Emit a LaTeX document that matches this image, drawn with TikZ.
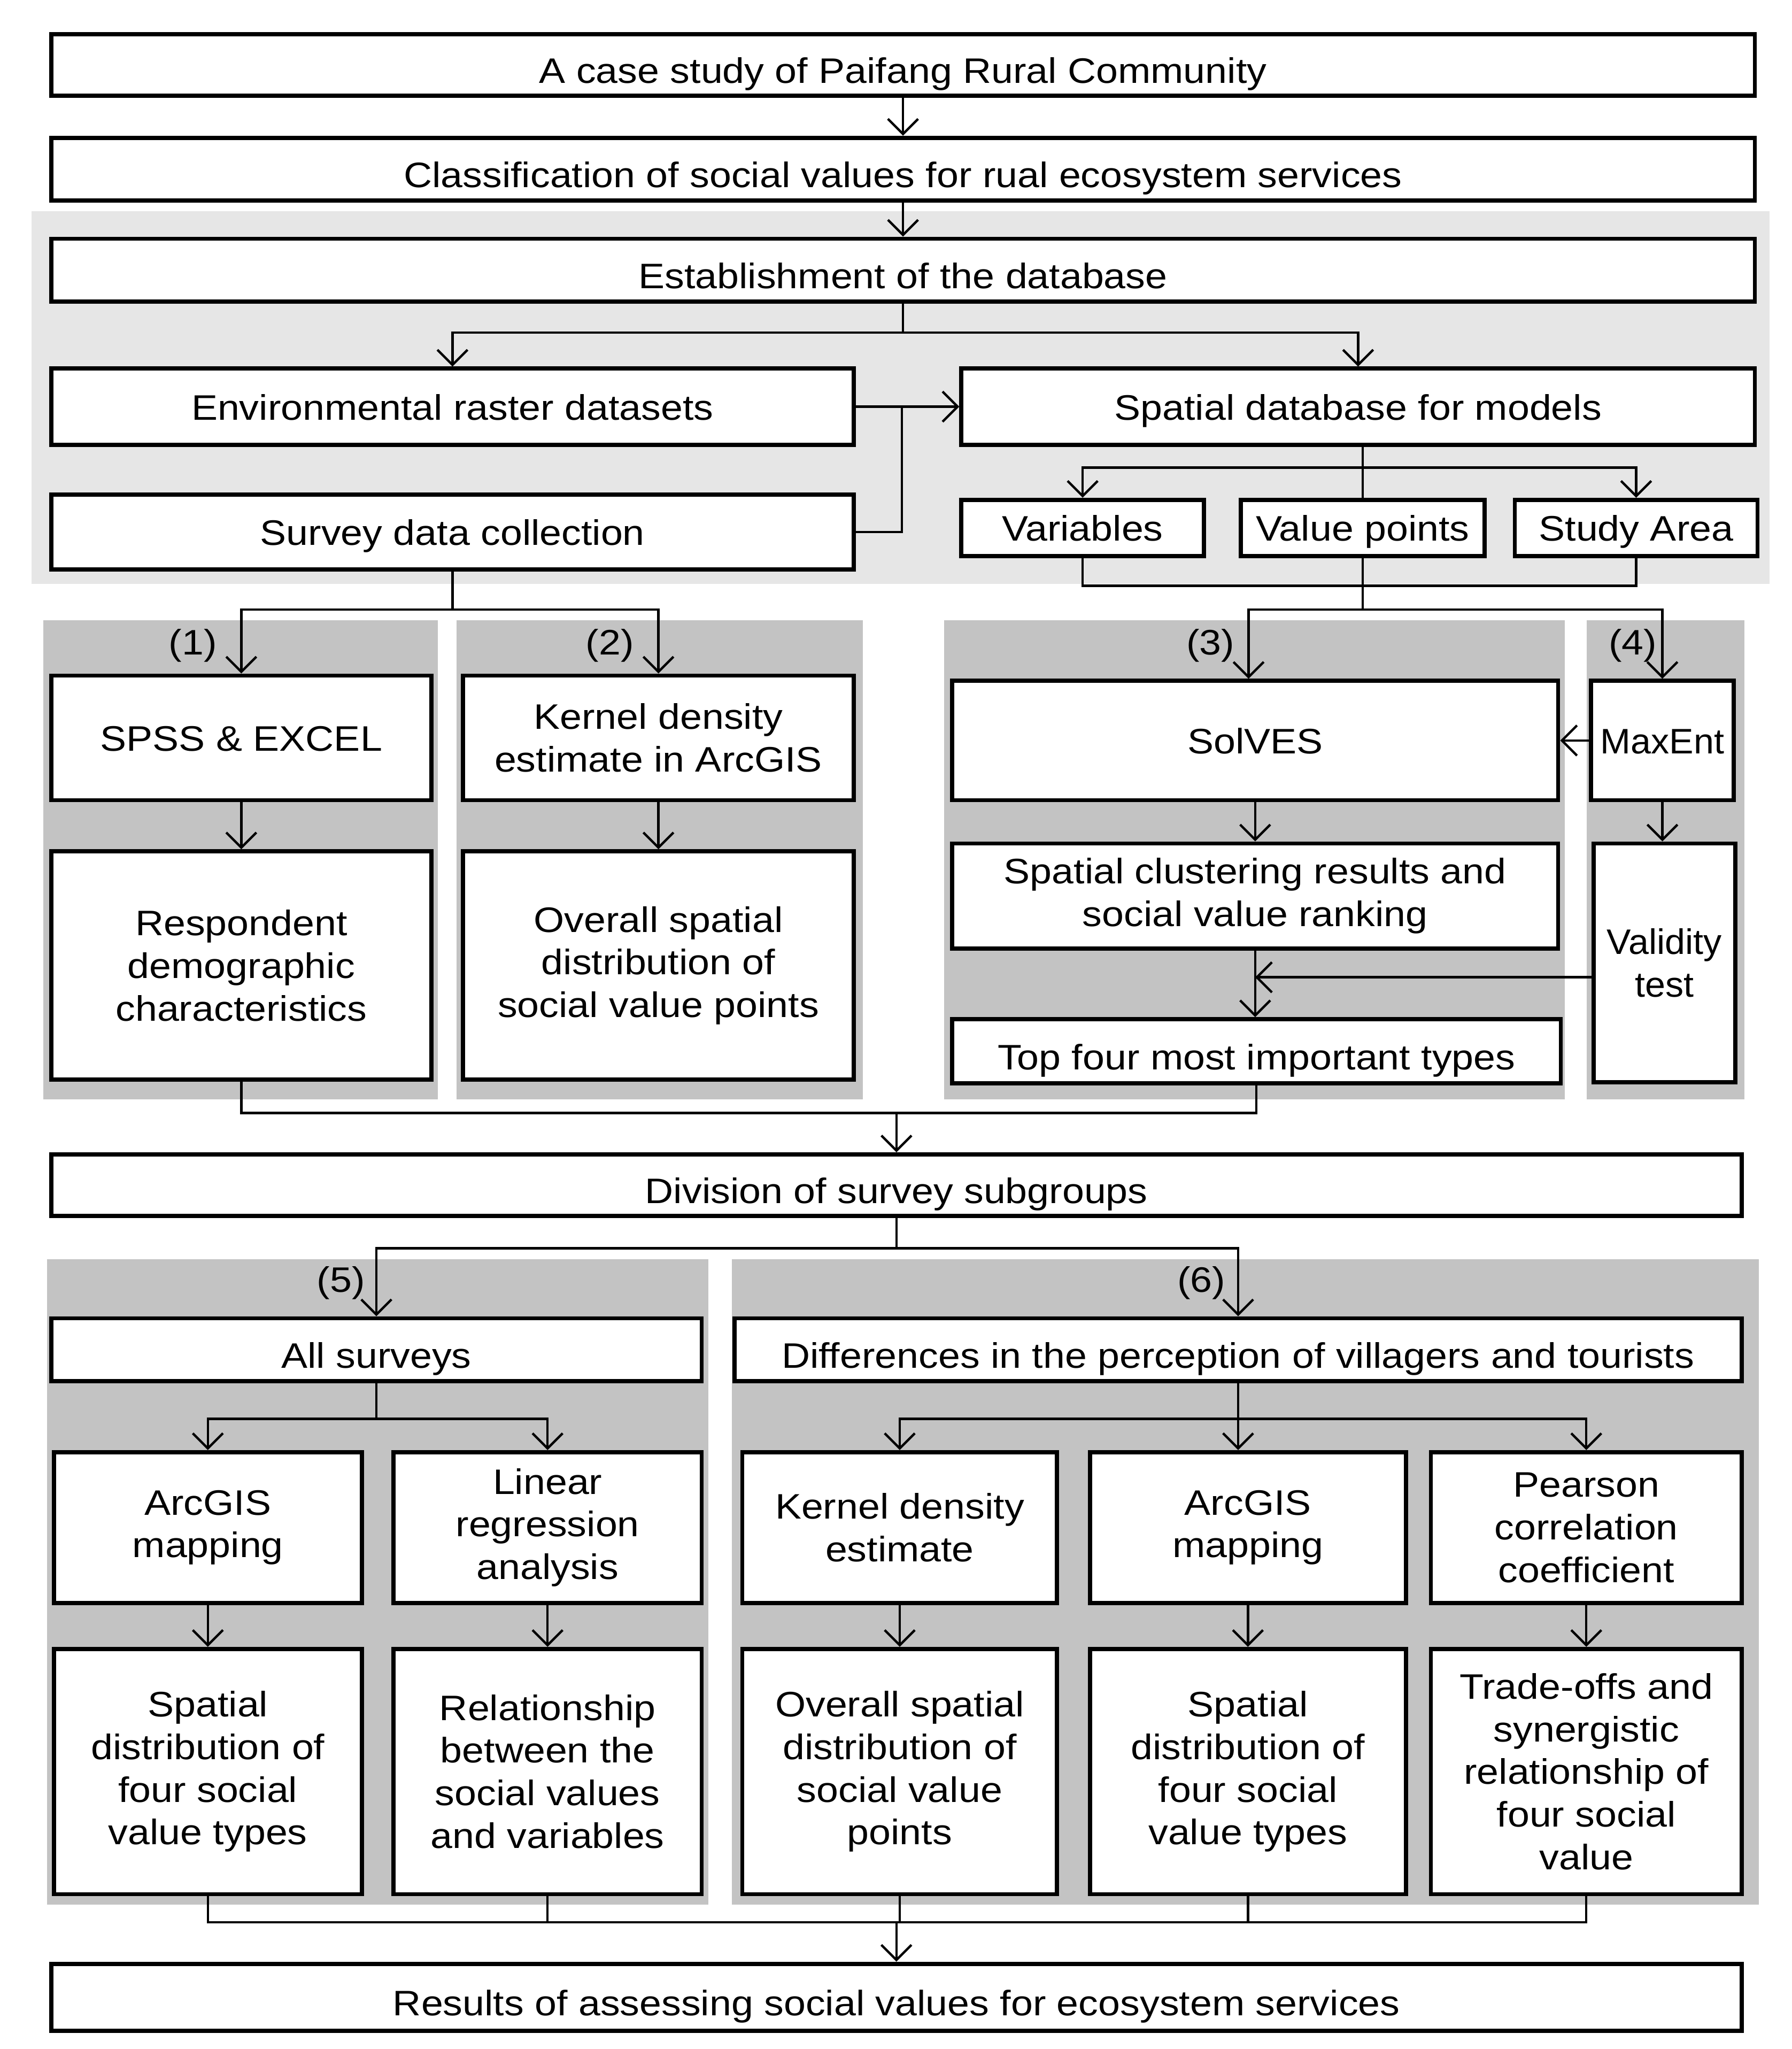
\documentclass[tikz,border=0pt]{standalone}
\usepackage{fontspec}
\setmainfont{Liberation Sans}[FakeStretch=1.11]
\newfontfamily\narrowfont{Liberation Sans}[FakeStretch=1.03]
\usetikzlibrary{arrows.meta,calc}
\definecolor{lightbg}{RGB}{230,230,230}
\definecolor{panelbg}{RGB}{195,195,195}
\newcommand\drawbox[7][]{%
  \pgfmathsetmacro\bw{#5-#3}\pgfmathsetmacro\bh{#6-#4}%
  \pgfmathsetmacro\bcx{(#3+#5)/2}\pgfmathsetmacro\bcy{(#4+#6)/2}%
  \node[box,#1,minimum width=\bw pt,minimum height=\bh pt] (#2) at (\bcx,\bcy) {#7};}
\begin{document}
\begin{tikzpicture}[x=1pt,y=-1pt,
  box/.style={draw=black,line width=3.2pt,fill=white,inner sep=0pt,align=center,font=\fontsize{27}{32.5}\selectfont},
  one/.style={text height=20pt,text depth=0pt},
  low/.style={text height=28pt,text depth=0pt},
  narrow/.style={font=\fontsize{27}{32.5}\narrowfont},
  lbl/.style={inner sep=0pt,font=\fontsize{27}{32.5}\selectfont},
  conn/.style={line width=1.8pt},
  arr/.style={line width=1.8pt,-{Straight Barb[length=11.5pt,width=23pt]}}]
\useasboundingbox (0,0) rectangle (1366,1562);
\fill[white] (0,0) rectangle (1366,1562);
% backgrounds
\fill[lightbg] (24,161) rectangle (1349,445);
\fill[panelbg] (33,473) rectangle (334,838);
\fill[panelbg] (348,473) rectangle (658,838);
\fill[panelbg] (720,473) rectangle (1193,838);
\fill[panelbg] (1210,473) rectangle (1330,838);
\fill[panelbg] (36,960) rectangle (540,1452);
\fill[panelbg] (558,960) rectangle (1341,1452);
% boxes
\drawbox[low]{b1}{39}{26}{1338}{73}{A case study of Paifang Rural Community}
\drawbox[low]{b2}{39}{105}{1338}{153}{Classification of social values for rual ecosystem services}
\drawbox[low]{b3}{39}{182}{1338}{230}{Establishment of the database}
\drawbox[one]{env}{39}{281}{651}{339}{Environmental raster datasets}
\drawbox[one]{sdb}{733}{281}{1338}{339}{Spatial database for models}
\drawbox[one]{sur}{39}{377}{651}{434}{Survey data collection}
\drawbox[one]{var}{733}{381}{918}{424}{Variables}
\drawbox[one]{vp}{946}{381}{1132}{424}{Value points}
\drawbox[one]{sa}{1155}{381}{1340}{424}{Study Area}
\drawbox[one]{spss}{39}{515}{329}{610}{SPSS \& EXCEL}
\drawbox{resp}{39}{649}{329}{823}{Respondent\\demographic\\characteristics}
\drawbox{kde}{353}{515}{651}{610}{Kernel density\\estimate in ArcGIS}
\drawbox{ovr}{353}{649}{651}{823}{Overall spatial\\distribution of\\social value points}
\drawbox[one]{solves}{726}{519}{1188}{610}{SolVES}
\drawbox{scr}{726}{643}{1188}{723}{Spatial clustering results and\\social value ranking}
\drawbox[low]{top}{726}{777}{1190}{826}{Top four most important types}
\drawbox[one,narrow]{maxent}{1213}{519}{1322}{610}{MaxEnt}
\drawbox[narrow]{valid}{1215}{643}{1323}{825}{Validity\\test}
\drawbox[low]{div}{39}{880}{1328}{927}{Division of survey subgroups}
\drawbox[low]{all}{39}{1005}{535}{1053}{All surveys}
\drawbox[low]{diff}{560}{1005}{1328}{1053}{Differences in the perception of villagers and tourists}
\drawbox{arc1}{41}{1107}{276}{1222}{ArcGIS\\mapping}
\drawbox{lin}{300}{1107}{535}{1222}{Linear\\regression\\analysis}
\drawbox{sd1}{41}{1257}{276}{1444}{Spatial\\distribution of\\four social\\value types}
\drawbox{rel}{300}{1257}{535}{1444}{Relationship\\between the\\social values\\and variables}
\drawbox{kde2}{566}{1107}{806}{1222}{Kernel density\\estimate}
\drawbox{arc2}{831}{1107}{1072}{1222}{ArcGIS\\mapping}
\drawbox{pear}{1091}{1107}{1328}{1222}{Pearson\\correlation\\coefficient}
\drawbox{ovr2}{566}{1257}{806}{1444}{Overall spatial\\distribution of\\social value\\points}
\drawbox{sd2}{831}{1257}{1072}{1444}{Spatial\\distribution of\\four social\\value types}
\drawbox{trade}{1091}{1257}{1328}{1444}{Trade-offs and\\synergistic\\relationship of\\four social\\value}
\drawbox[low]{res}{39}{1497}{1328}{1548}{Results of assessing social values for ecosystem services}
% labels
\node[lbl] (l1) at (147,492) {(1)};
\node[lbl] (l2) at (465,492) {(2)};
\node[lbl] (l3) at (923,492) {(3)};
\node[lbl] (l4) at (1245,492) {(4)};
\node[lbl] (l5) at (260,978) {(5)};
\node[lbl] (l6) at (916,978) {(6)};
% connectors
\draw[arr] (b1.south) -- (b2.north);
\draw[arr] (b2.south) -- (b3.north);
\coordinate (j1) at ($(b3.south)+(0,22)$);
\draw[conn] (b3.south) -- (j1);
\draw[arr] (j1) -| (env.north);
\draw[arr] (j1) -| (sdb.north);
\coordinate (j2) at ($(env.east)+(35,0)$);
\draw[conn] (env.east) -- (j2);
\draw[conn] (sur.east) -| (j2);
\draw[arr] (j2) -- (sdb.west);
\draw[conn] (sdb.south -| vp.north) -- (vp.north);
\coordinate (j3) at ($(vp.north)+(0,-23)$);
\draw[arr] (j3) -| (var.north);
\draw[arr] (j3) -| (sa.north);
\coordinate (j4) at ($(vp.south)+(0,21)$);
\draw[conn] (var.south) |- (j4) -| (sa.south);
\coordinate (j5) at ($(vp.south)+(0,39)$);
\draw[conn] (vp.south) -- (j5);
\draw[arr] (j5) -| ([xshift=-5pt]solves.north);
\draw[arr] (j5) -| (maxent.north);
\coordinate (j6) at ($(sur.south)+(0,29)$);
\draw[conn] (sur.south) -- (j6);
\draw[arr] (j6) -| (spss.north);
\draw[arr] (j6) -| (kde.north);
\draw[arr] (spss.south) -- (resp.north);
\draw[arr] (kde.south) -- (ovr.north);
\draw[arr] (solves.south) -- (scr.north);
\draw[arr] (scr.south) -- (scr.south |- top.north);
\draw[arr] (maxent.south) -- (maxent.south |- valid.north);
\draw[arr] (maxent.west) -- (solves.east);
\coordinate (vv) at ($(valid.west)+(0,11)$);
\draw[arr] (vv) -- (scr.south |- vv);
\coordinate (j7) at ($(div.north)+(0,-30)$);
\draw[conn] (resp.south) |- (j7) -| (top.south);
\draw[arr] (j7) -- (div.north);
\coordinate (j8) at ($(div.south)+(0,23)$);
\draw[conn] (div.south) -- (j8);
\draw[arr] (j8) -| (all.north);
\draw[arr] (j8) -| (diff.north);
\coordinate (j9) at ($(all.south)+(0,27)$);
\draw[conn] (all.south) -- (j9);
\draw[arr] (j9) -| (arc1.north);
\draw[arr] (j9) -| (lin.north);
\draw[arr] (arc1.south) -- (sd1.north);
\draw[arr] (lin.south) -- (rel.north);
\coordinate (j10) at ($(diff.south)+(0,27)$);
\draw[arr] (diff.south) -- (diff.south |- arc2.north);
\draw[arr] (j10) -| (kde2.north);
\draw[arr] (j10) -| (pear.north);
\draw[arr] (kde2.south) -- (ovr2.north);
\draw[arr] (arc2.south) -- (sd2.north);
\draw[arr] (pear.south) -- (trade.north);
\coordinate (j11) at ($(res.north)+(0,-30)$);
\draw[conn] (sd1.south) |- (j11) -| (trade.south);
\draw[conn] (rel.south) -- (rel.south |- j11);
\draw[conn] (ovr2.south) -- (ovr2.south |- j11);
\draw[conn] (sd2.south) -- (sd2.south |- j11);
\draw[arr] (j11) -- (res.north);
\end{tikzpicture}
\end{document}
